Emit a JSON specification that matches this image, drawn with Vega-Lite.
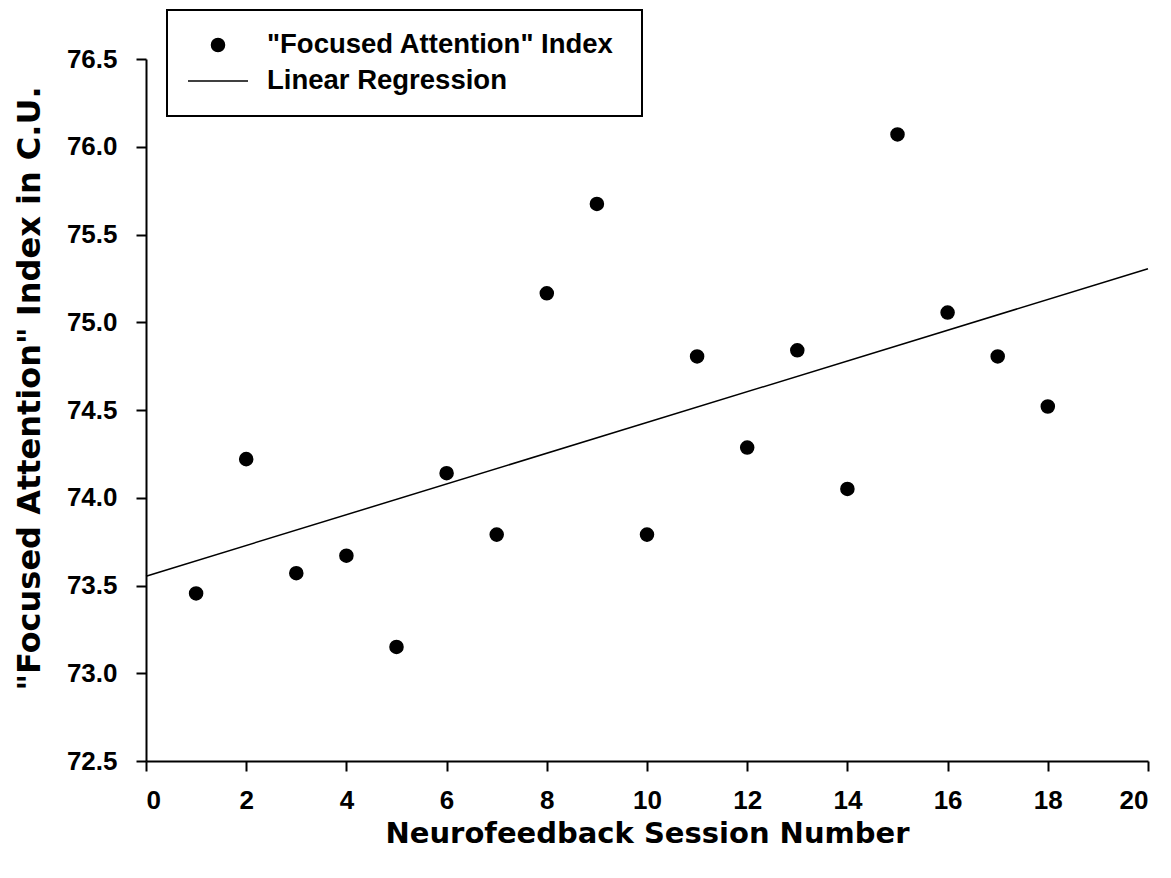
{
  "$schema": "https://vega.github.io/schema/vega-lite/v6.json",
  "width": 1002,
  "height": 702,
  "autosize": "none",
  "padding": {"left": 146, "top": 59, "right": 23, "bottom": 117},
  "background": "white",
  "config": {
    "view": {"stroke": null},
    "legend": {"strokeWidth": 2},
    "axis": {
      "grid": false,
      "domainColor": "black",
      "domainWidth": 2,
      "tickColor": "black",
      "tickWidth": 2,
      "tickSize": 10,
      "labelColor": "black",
      "labelFont": "Liberation Sans",
      "labelFontWeight": "bold",
      "labelFontSize": 26,
      "titleColor": "black",
      "titleFont": "DejaVu Sans",
      "titleFontWeight": "bold",
      "titleFontSize": 30
    }
  },
  "layer": [
    {
      "data": {
        "values": [
          {"session": 1, "index": 73.455, "series": "\"Focused Attention\"  Index"},
          {"session": 2, "index": 74.22, "series": "\"Focused Attention\"  Index"},
          {"session": 3, "index": 73.57, "series": "\"Focused Attention\"  Index"},
          {"session": 4, "index": 73.67, "series": "\"Focused Attention\"  Index"},
          {"session": 5, "index": 73.15, "series": "\"Focused Attention\"  Index"},
          {"session": 6, "index": 74.14, "series": "\"Focused Attention\"  Index"},
          {"session": 7, "index": 73.79, "series": "\"Focused Attention\"  Index"},
          {"session": 8, "index": 75.165, "series": "\"Focused Attention\"  Index"},
          {"session": 9, "index": 75.674, "series": "\"Focused Attention\"  Index"},
          {"session": 10, "index": 73.79, "series": "\"Focused Attention\"  Index"},
          {"session": 11, "index": 74.805, "series": "\"Focused Attention\"  Index"},
          {"session": 12, "index": 74.286, "series": "\"Focused Attention\"  Index"},
          {"session": 13, "index": 74.84, "series": "\"Focused Attention\"  Index"},
          {"session": 14, "index": 74.05, "series": "\"Focused Attention\"  Index"},
          {"session": 15, "index": 76.07, "series": "\"Focused Attention\"  Index"},
          {"session": 16, "index": 75.055, "series": "\"Focused Attention\"  Index"},
          {"session": 17, "index": 74.805, "series": "\"Focused Attention\"  Index"},
          {"session": 18, "index": 74.52, "series": "\"Focused Attention\"  Index"}
        ]
      },
      "mark": {"type": "point", "filled": true, "fill": "black", "stroke": "black", "strokeWidth": 1.5, "opacity": 1},
      "encoding": {
        "x": {
          "field": "session",
          "type": "quantitative",
          "scale": {"domain": [0, 20], "nice": false, "zero": false},
          "axis": {
            "title": "Neurofeedback Session Number",
            "titleFontSize": 29,
            "values": [0, 2, 4, 6, 8, 10, 12, 14, 16, 18, 20],
            "format": "d",
            "labelPadding": 16,
            "titlePadding": 6
          }
        },
        "y": {
          "field": "index",
          "type": "quantitative",
          "scale": {"domain": [72.5, 76.5], "nice": false, "zero": false},
          "axis": {
            "title": "\"Focused Attention\" Index in C.U.",
            "titleFontSize": 32,
            "titleY": 329,
            "values": [72.5, 73, 73.5, 74, 74.5, 75, 75.5, 76, 76.5],
            "format": ".1f",
            "labelPadding": 19,
            "titlePadding": 20
          }
        },
        "size": {
          "field": "series",
          "type": "ordinal",
          "scale": {
            "domain": ["\"Focused Attention\"  Index", "Linear Regression"],
            "range": [170, 3600]
          },
          "legend": {
            "title": null,
            "orient": "none",
            "legendX": 21,
            "legendY": -49,
            "padding": 20,
            "strokeColor": "black",
            "fillColor": "white",
            "labelFont": "Liberation Sans",
            "labelFontWeight": "bold",
            "labelFontSize": 27.5,
            "labelColor": "black",
            "labelOffset": 18,
            "labelLimit": 500,
            "rowPadding": 6,
            "clipHeight": 30,
            "symbolStrokeWidth": 1.5,
            "symbolOpacity": 1
          }
        },
        "shape": {
          "field": "series",
          "type": "nominal",
          "scale": {
            "domain": ["\"Focused Attention\"  Index", "Linear Regression"],
            "range": ["circle", "stroke"]
          },
          "legend": {
            "title": null,
            "orient": "none",
            "legendX": 21,
            "legendY": -49,
            "padding": 20,
            "strokeColor": "black",
            "fillColor": "white",
            "labelFont": "Liberation Sans",
            "labelFontWeight": "bold",
            "labelFontSize": 27.5,
            "labelColor": "black",
            "labelOffset": 18,
            "labelLimit": 500,
            "rowPadding": 6,
            "clipHeight": 30,
            "symbolStrokeWidth": 1.5,
            "symbolOpacity": 1
          }
        }
      }
    },
    {
      "data": {
        "values": [
          {"session": 0, "index": 73.553},
          {"session": 20, "index": 75.305}
        ]
      },
      "mark": {"type": "line", "color": "black", "strokeWidth": 1.5},
      "encoding": {
        "x": {"field": "session", "type": "quantitative"},
        "y": {"field": "index", "type": "quantitative"}
      }
    }
  ]
}
